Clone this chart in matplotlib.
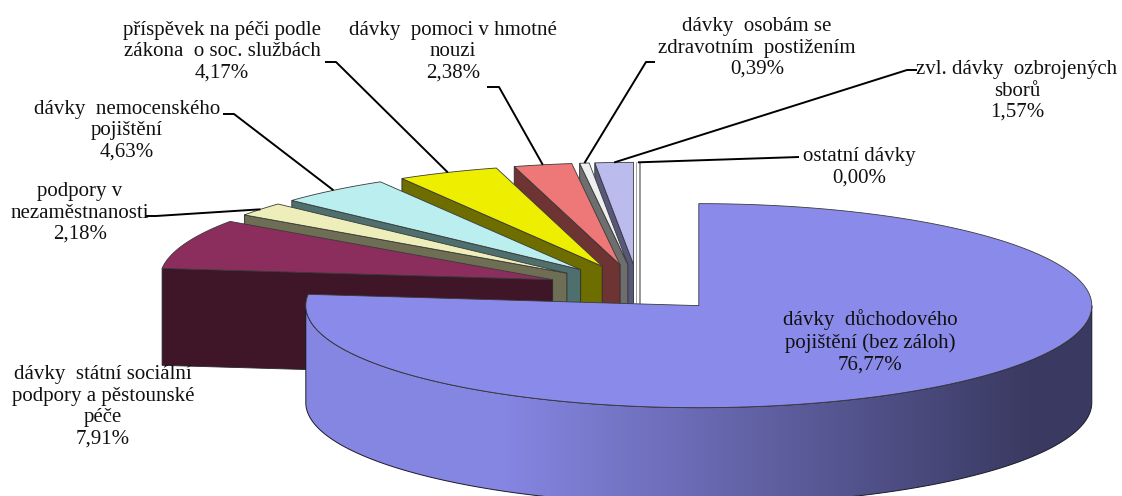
import numpy as np
import matplotlib
matplotlib.use("Agg")
import matplotlib.pyplot as plt
from matplotlib.patches import Polygon
from matplotlib.colors import to_rgb

plt.rcParams['font.family'] = ['Liberation Serif', 'DejaVu Serif']

# podíly jednotlivých dávek (%)
names = [
    "dávky  důchodového\npojištění (bez záloh)",
    "dávky  státní sociální\npodpory a pěstounské\npéče",
    "podpory v\nnezaměstnanosti",
    "dávky  nemocenského\npojištění",
    "příspěvek na péči podle\nzákona  o soc. službách",
    "dávky  pomoci v hmotné\nnouzi",
    "dávky  osobám se\nzdravotním  postižením",
    "zvl. dávky  ozbrojených\nsborů",
    "ostatní dávky",
]
shares = [76.77, 7.91, 2.18, 4.63, 4.17, 2.38, 0.39, 1.57, 0.00]
top_colors = ['#8a8aea', '#8b2d5d', '#eeeebb', '#bbeeee', '#eeee00',
              '#ee7777', '#eeeeee', '#bbbbee', '#ffffff']
side_colors = ['#6a6ab4', '#3e1628', '#6e6e55', '#4f6e6e', '#6e6e00',
               '#6e3333', '#6e6e6e', '#58587a', '#ffffff']

# rozměry 3D koláče v pixelech
CX, CY = 638, 288
RX, RY = 393, 102
DEPTH = 97
EXPLODE = 0.232

# umístění popisků a zalomení odkazových čar
label_xy = [(870, 342), (103, 407), (80, 213), (127, 131), (222, 52),
            (453, 52), (757, 48), (1017, 91), (859, 167)]
leader_pts = [None, None,
              [(146, 216), (156, 216)],
              [(223, 114), (234, 114)],
              [(325, 62), (336, 62)],
              [(487, 87), (499, 87)],
              [(655, 62), (646, 62)],
              [(917, 70), (907, 70)],
              [(799, 157)]]

fig = plt.figure(figsize=(11.22, 4.96), dpi=100)
ax = fig.add_axes([0, 0, 1, 1])

spans = np.array(shares) * 3.6
hi = 90 - np.concatenate([[0], np.cumsum(spans)[:-1]])
lo = hi - spans
mid = (hi + lo) / 2


def rim(cx, cy, a):
    t = np.radians(a)
    return cx + RX * np.cos(t), cy - RY * np.sin(t)


def arc(cx, cy, a0, a1, n=200):
    t = np.radians(np.linspace(a0, a1, n))
    return np.column_stack([cx + RX * np.cos(t), cy - RY * np.sin(t)])


def radial_wall(cx, cy, a, color, lw=0.6):
    x, y = rim(cx, cy, a)
    pts = [(cx, cy), (x, y), (x, y + DEPTH), (cx, cy + DEPTH)]
    ax.add_patch(Polygon(pts, closed=True, fc=color, ec='#2a2a2a', lw=lw))


centers = []
for i in range(len(shares)):
    m = np.radians(mid[i])
    centers.append((CX + EXPLODE * RX * np.cos(m), CY - EXPLODE * RY * np.sin(m)))

# vykreslení od zadních výsečí k předním
order = np.argsort(-np.sin(np.radians(mid)))
for i in order:
    cx, cy = centers[i]

    # vnější plášť - jen přední polovina, s přechodem do tmava doprava
    for k in (-1, 0, 1):
        a0 = max(lo[i], -180 + 360 * k)
        a1 = min(hi[i], 0 + 360 * k)
        if a1 - a0 <= 0:
            continue
        edge = arc(cx, cy, a0, a1, 300)
        outline = np.vstack([edge, edge[::-1] + [0, DEPTH]])
        clip = Polygon(outline, closed=True, fc='none', ec='none')
        ax.add_patch(clip)
        xs = np.linspace(cx - RX, cx + RX, 600)
        t = (xs - (cx - RX)) / (2 * RX)
        s = np.clip((t - 0.25) / 0.67, 0, 1)
        base = np.array(to_rgb(top_colors[i]))
        grad = (base[None, :] * (0.97 - 0.55 * s)[:, None])[None, :, :]
        ymin, ymax = outline[:, 1].min(), outline[:, 1].max()
        im = ax.imshow(grad, extent=(cx - RX, cx + RX, ymax, ymin), aspect='auto',
                       interpolation='bilinear', zorder=1)
        im.set_clip_path(clip)
        ax.add_patch(Polygon(outline, closed=True, fill=False, ec='#1a1a2a', lw=0.7))

    # boční stěny výseče
    if spans[i] == 0:
        x, y = rim(cx, cy, hi[i])
        ax.plot([x, x], [y, cy + DEPTH], color='#8a8a8a', lw=3.4,
                solid_capstyle='butt', zorder=1)
        ax.plot([x, x], [y + 1, cy + DEPTH], color='white', lw=1.6,
                solid_capstyle='butt', zorder=1)
    else:
        if np.cos(np.radians(hi[i])) < -1e-9:
            radial_wall(cx, cy, hi[i], side_colors[i])
        if np.cos(np.radians(lo[i])) > 1e-9:
            radial_wall(cx, cy, lo[i], side_colors[i])

        # horní plocha
        face = np.vstack([[(cx, cy)], arc(cx, cy, lo[i], hi[i], 300)])
        ax.add_patch(Polygon(face, closed=True, fc=top_colors[i], ec='#3a3a3a', lw=0.6))

# popisky s procenty a odkazové čáry
for i in range(len(shares)):
    pct = f"{shares[i]:.2f}".replace('.', ',') + '%'
    x, y = label_xy[i]
    ax.text(x, y, names[i] + '\n' + pct, ha='center', va='center',
            fontsize=15, linespacing=1.18, color='#111111', multialignment='center')
    if leader_pts[i] is not None:
        cx, cy = centers[i]
        end = rim(cx, cy, mid[i])
        pts = np.array(leader_pts[i] + [end])
        ax.plot(pts[:, 0], pts[:, 1], color='black', lw=1.4, solid_capstyle='butt')

ax.set_xlim(0, 1122)
ax.set_ylim(496, 0)
ax.axis('off')

fig.savefig('out.png', dpi=100)
